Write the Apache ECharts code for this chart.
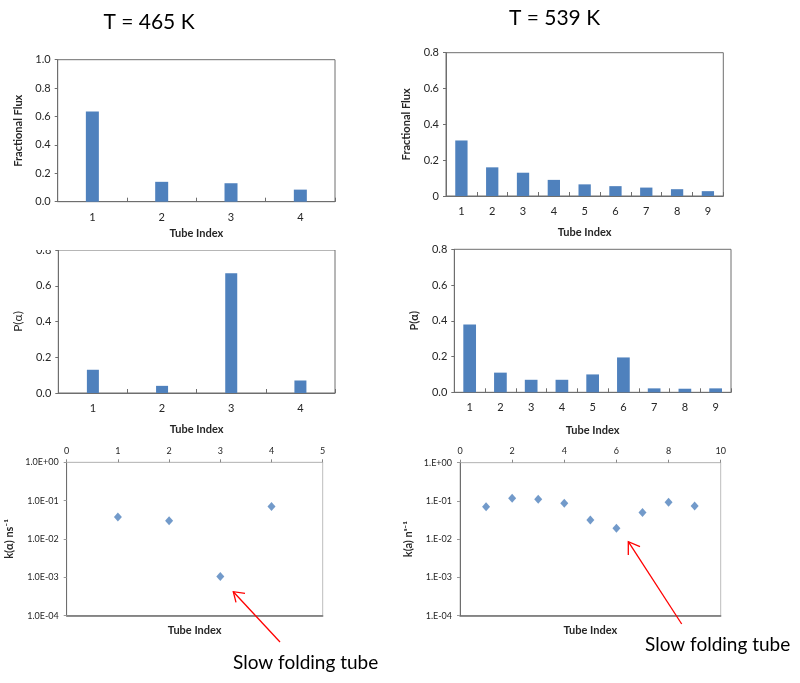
<!DOCTYPE html>
<html><head><meta charset="utf-8">
<script src="https://cdn.jsdelivr.net/npm/echarts@6/dist/echarts.min.js"></script>
<style>html,body{margin:0;padding:0;background:#fff}#c{width:800px;height:683px}</style>
</head><body><div id="c"></div>
<script>
const tubes465 = ['1','2','3','4'];
const tubes539 = ['1','2','3','4','5','6','7','8','9'];
const flux465 = [0.635, 0.14, 0.13, 0.085];
const flux539 = [0.31, 0.16, 0.13, 0.09, 0.065, 0.055, 0.047, 0.038, 0.027];
const p465 = [0.13, 0.04, 0.67, 0.07];
const p539 = [0.38, 0.11, 0.07, 0.07, 0.10, 0.195, 0.022, 0.02, 0.022];
const kIdx465 = [1, 2, 3, 4];
const k465 = [0.0375, 0.030, 0.00106, 0.070];
const kIdx539 = [1, 2, 3, 4, 5, 6, 7, 8, 9];
const k539 = [0.071, 0.117, 0.110, 0.087, 0.032, 0.0193, 0.050, 0.092, 0.074];
const titles = ['T = 465 K', 'T = 539 K'];
const noteText = 'Slow folding tube';

const FONT = 'Lato, "Liberation Sans", sans-serif';
const BLUE = '#4F81BD';
const DARK = '#6e6e6e';
const LIGHT = '#bdbdbd';
const LBL = '#262626';

const chart = echarts.init(document.getElementById('c'));

const grids = [
  {left: 57.7, top: 59.7, width: 277.3, height: 142},
  {left: 446, top: 52.7, width: 277.3, height: 143.3},
  {left: 58.3, top: 250, width: 276.7, height: 143},
  {left: 454.3, top: 249.3, width: 276.7, height: 143},
  {left: 66.7, top: 462.3, width: 256, height: 153.4},
  {left: 460, top: 462.7, width: 260.7, height: 153}
].map((g, i) => Object.assign({
  show: true, borderColor: i < 4 ? DARK : LIGHT, borderWidth: 1,
  containLabel: false, outerBoundsMode: 'none', backgroundColor: 'transparent'
}, g));

function catAxis(gi, cats, nameGap) {
  return {
    type: 'category', gridIndex: gi, data: cats, boundaryGap: true,
    name: 'Tube Index', nameLocation: 'middle', nameGap: nameGap,
    nameTextStyle: {fontFamily: FONT, fontSize: 11, fontWeight: 'bold', color: LBL},
    axisLine: {show: true, lineStyle: {color: DARK, width: 1}},
    axisTick: {show: true, inside: true, length: 4, alignWithLabel: false, interval: 0, lineStyle: {color: DARK}},
    axisLabel: {fontFamily: FONT, fontSize: 11, color: LBL, margin: 10, interval: 0},
    splitLine: {show: false}
  };
}
function valAxis(gi, max, name, bold, zeroPlain) {
  return {
    type: 'value', gridIndex: gi, min: 0, max: max, interval: 0.2,
    name: name, nameLocation: 'middle', nameGap: 34,
    nameTextStyle: {fontFamily: FONT, fontSize: bold ? 11 : 12, fontWeight: bold ? 'bold' : 'normal', color: LBL},
    axisLine: {show: true, lineStyle: {color: DARK, width: 1}},
    axisTick: {show: true, inside: false, length: 3, lineStyle: {color: DARK}},
    axisLabel: {fontFamily: FONT, fontSize: 11, color: LBL, margin: 7,
      formatter: v => (zeroPlain && v === 0) ? '0' : v.toFixed(1)},
    splitLine: {show: false}
  };
}
function expLabel(v, style) {
  const e = Math.round(Math.log10(v));
  const s = (e >= 0 ? '+' : '-') + String(Math.abs(e)).padStart(2, '0');
  return (style === 'long' ? '1.0E' : '1.E') + s;
}
function topValAxis(gi, max, interval) {
  return {
    type: 'value', gridIndex: gi, position: 'top', min: 0, max: max, interval: interval,
    axisLine: {show: true, lineStyle: {color: LIGHT, width: 1}},
    axisTick: {show: true, inside: false, length: 3, lineStyle: {color: '#888'}},
    axisLabel: {fontFamily: FONT, fontSize: 9, color: LBL, margin: 7},
    splitLine: {show: false}
  };
}
function bottomNameAxis(gi, max) {
  return {
    type: 'value', gridIndex: gi, position: 'bottom', min: 0, max: max,
    name: 'Tube Index', nameLocation: 'middle', nameGap: 9,
    nameTextStyle: {fontFamily: FONT, fontSize: 11, fontWeight: 'bold', color: LBL},
    axisLine: {show: true, lineStyle: {color: DARK, width: 1.5}},
    axisTick: {show: false}, axisLabel: {show: false}, splitLine: {show: false}
  };
}
function logAxis(gi, name, style, gap) {
  return {
    type: 'log', logBase: 10, gridIndex: gi, min: 1e-4, max: 1,
    name: name, nameLocation: 'middle', nameGap: gap,
    nameTextStyle: {fontFamily: FONT, fontSize: 11, fontWeight: 'bold', color: LBL},
    axisLine: {show: true, lineStyle: {color: DARK, width: 1}},
    axisTick: {show: true, inside: false, length: 3, lineStyle: {color: '#999'}},
    axisLabel: {fontFamily: FONT, fontSize: 9, color: LBL, margin: 8, formatter: v => expLabel(v, style)},
    splitLine: {show: false}
  };
}

function arrow(tail, head, wing1, wing2) {
  const st = {stroke: '#ff0000', lineWidth: 1.3};
  return [
    {type: 'polyline', z: 50, shape: {points: [tail, head]}, style: st},
    {type: 'polyline', z: 50, shape: {points: [wing1, head, wing2]}, style: Object.assign({fill: null}, st)}
  ];
}

const option = {
  animation: false,
  backgroundColor: '#fff',
  grid: grids,
  xAxis: [
    catAxis(0, tubes465, 26),
    catAxis(1, tubes539, 31),
    catAxis(2, tubes465, 31),
    catAxis(3, tubes539, 33),
    topValAxis(4, 5, 1),
    topValAxis(5, 10, 2),
    bottomNameAxis(4, 5),
    bottomNameAxis(5, 10)
  ],
  yAxis: [
    valAxis(0, 1.0, 'Fractional Flux', true, false),
    valAxis(1, 0.8, 'Fractional Flux', true, true),
    valAxis(2, 0.8, 'P(α)', false, false),
    valAxis(3, 0.8, 'P(α)', true, false),
    logAxis(4, 'k(α) ns⁻¹', 'long', 52),
    logAxis(5, 'k(a) nˢ⁻¹', 'short', 46)
  ],
  series: [
    {type: 'bar', xAxisIndex: 0, yAxisIndex: 0, data: flux465, barWidth: 13, itemStyle: {color: BLUE}},
    {type: 'bar', xAxisIndex: 1, yAxisIndex: 1, data: flux539, barWidth: 12.3, itemStyle: {color: BLUE}},
    {type: 'bar', xAxisIndex: 2, yAxisIndex: 2, data: p465, barWidth: 12, itemStyle: {color: BLUE}},
    {type: 'bar', xAxisIndex: 3, yAxisIndex: 3, data: p539, barWidth: 12.7, itemStyle: {color: BLUE}},
    {type: 'scatter', xAxisIndex: 4, yAxisIndex: 4, symbol: 'diamond', symbolSize: [8, 9],
      data: kIdx465.map((x, i) => [x, k465[i]]), itemStyle: {color: BLUE}},
    {type: 'scatter', xAxisIndex: 5, yAxisIndex: 5, symbol: 'diamond', symbolSize: [8, 9],
      data: kIdx539.map((x, i) => [x, k539[i]]), itemStyle: {color: BLUE}}
  ],
  graphic: [
    {type: 'rect', z: 40, shape: {x: 30, y: 237, width: 330, height: 13}, style: {fill: '#fff'}},
    {type: 'text', z: 60, x: 149, y: 22, style: {text: titles[0], font: '21px ' + FONT, fill: '#000', textAlign: 'center', textVerticalAlign: 'middle'}},
    {type: 'text', z: 60, x: 554.5, y: 18, style: {text: titles[1], font: '21px ' + FONT, fill: '#000', textAlign: 'center', textVerticalAlign: 'middle'}},
    {type: 'text', z: 60, x: 233, y: 663, style: {text: noteText, font: '19px ' + FONT, fill: '#000', textAlign: 'left', textVerticalAlign: 'middle'}},
    {type: 'text', z: 60, x: 645, y: 645, style: {text: noteText, font: '19px ' + FONT, fill: '#000', textAlign: 'left', textVerticalAlign: 'middle'}},
    ...arrow([280, 642], [233.3, 591.7], [236, 602.3], [245, 593.3]),
    ...arrow([681.7, 624], [628.3, 541.7], [628.3, 555], [640, 546.7])
  ]
};
chart.setOption(option);
</script></body></html>
